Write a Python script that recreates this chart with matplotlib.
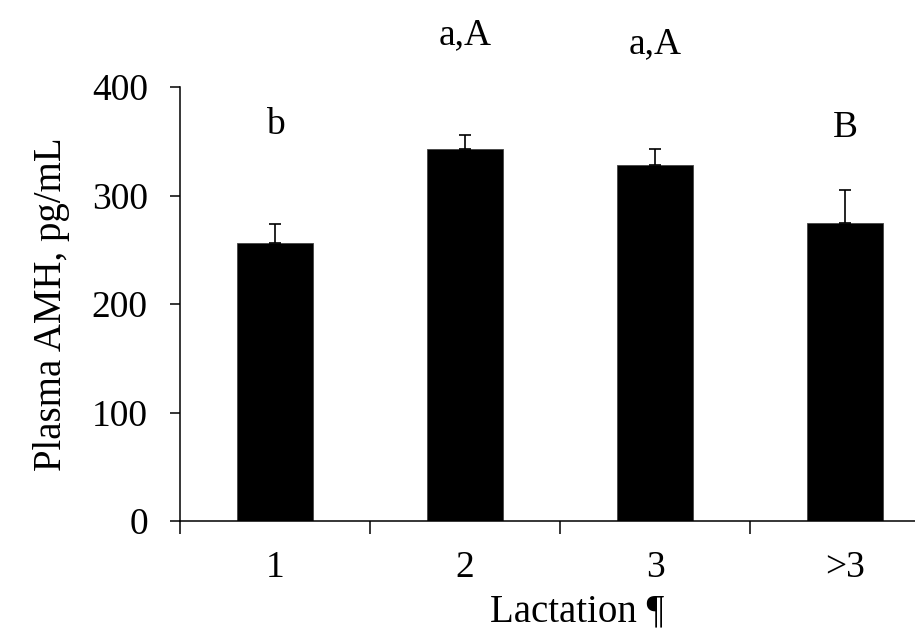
import matplotlib.pyplot as plt
import numpy as np

plt.rcParams['font.family'] = ['Liberation Serif', 'DejaVu Serif']

# data
groups = ['1', '2', '3', '>3']
amh_mean = [256, 343, 328, 275]
amh_se = [18, 13, 15, 30]
letters = ['b', 'a,A', 'a,A', 'B']
letter_y = [357, 439, 431, 354]

fig = plt.figure(figsize=(9.15, 6.3), dpi=100)
ax = fig.add_axes([180 / 915, 109 / 630, 760 / 915, 434 / 630])

x = np.arange(len(groups))
ax.bar(x, amh_mean, width=0.405, color='black', edgecolor='#444444', linewidth=0.6, zorder=2)
ax.errorbar(x, amh_mean, yerr=[np.zeros(len(x)), amh_se], fmt='none',
            ecolor='black', elinewidth=1.2, capsize=4.2, capthick=1.2, zorder=3)

for xi, lab, yl in zip(x, letters, letter_y):
    ax.text(xi, yl, lab, ha='center', va='baseline', fontsize=27, clip_on=False)

ax.set_xlim(-0.5, 3.5)
ax.set_ylim(0, 400)
ax.set_yticks([0, 100, 200, 300, 400])
ax.set_xticks(x)
ax.set_xticklabels(groups)
ax.set_xticks(np.arange(-0.5, 4, 1), minor=True)
ax.tick_params(axis='x', which='major', length=0, labelsize=27, pad=21)
ax.tick_params(axis='x', which='minor', length=9, width=1.1, direction='out')
ax.tick_params(axis='y', length=7.2, width=1.1, direction='out', labelsize=27, pad=16)

for s in ['top', 'right']:
    ax.spines[s].set_visible(False)
for s in ['left', 'bottom']:
    ax.spines[s].set_linewidth(1.1)

ax.set_ylabel('Plasma AMH, pg/mL', fontsize=28)
ax.set_xlabel('Lactation ¶', fontsize=28)
ax.xaxis.set_label_coords(0.522, -0.168)
ax.yaxis.set_label_coords(-0.145, 0.5)

fig.savefig('out.png', dpi=100)
